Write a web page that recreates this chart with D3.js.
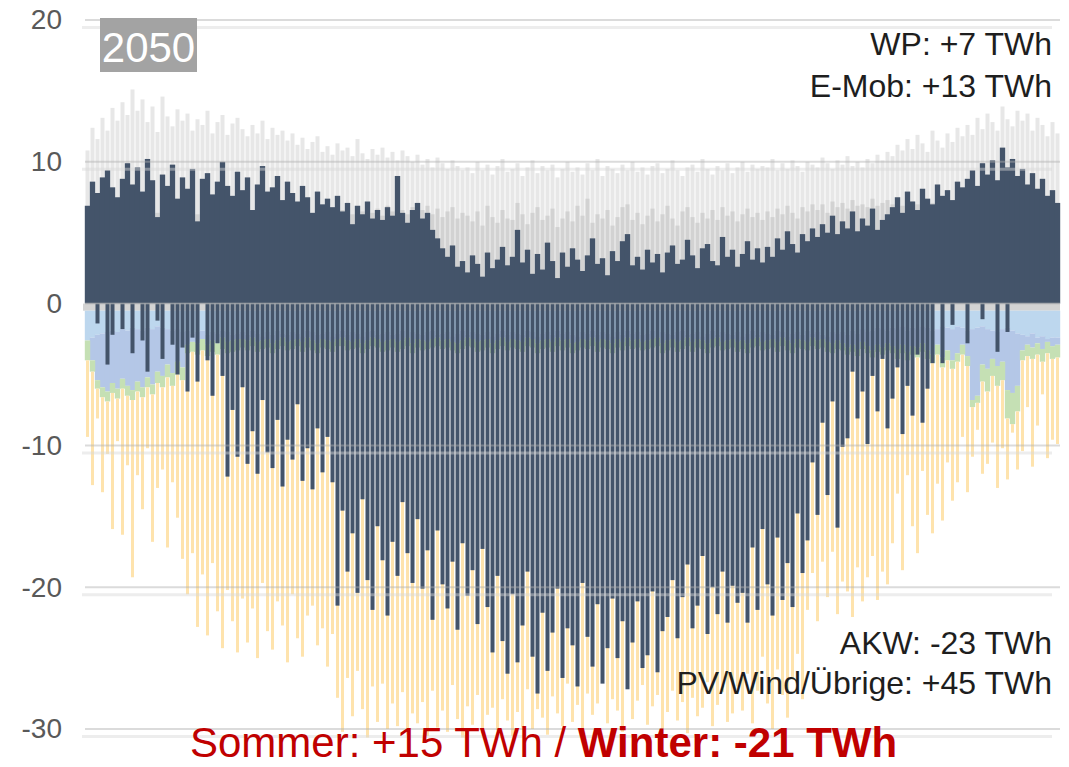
<!DOCTYPE html>
<meta charset="utf-8">
<script src="https://d3js.org/d3.v7.min.js"></script>
<style>
  body { margin: 0; background: #fff; }
</style>
<div id="chart"></div>
<script>

// one column ~ 2 days, values in TWh-scale units
// positive side: navy = import need, medium / light gray = extra demand on top
const navyPos = [
  6.9, 8.6, 7.8, 8.9, 9.4, 8.2, 7.5, 8.8, 9.9, 8.4,
  9.6, 7.9, 10.2, 8.7, 6.1, 9.1, 8.3, 9.8, 7.4, 8.9,
  8.1, 9.5, 5.8, 8.8, 9.2, 7.7, 8.6, 10.0, 8.3, 7.6,
  9.3, 8.0, 8.9, 6.6, 8.4, 9.7, 7.9, 8.2, 9.0, 7.3,
  8.6, 7.8, 7.2, 8.3, 7.5, 6.4, 7.9, 7.0, 7.4, 6.8,
  7.6, 6.5, 7.1, 5.6, 6.9, 6.3, 7.2, 6.0, 6.6, 5.9,
  6.8, 6.2, 9.0, 6.4, 5.7, 6.6,
  7.1, 6.0, 6.4, 5.2, 4.6, 3.9, 3.3, 4.1, 2.6, 3.0,
  2.2, 3.4, 2.8, 1.9, 3.6, 2.5, 3.1, 4.0, 2.7, 3.3,
  5.2, 2.9, 3.8, 2.1, 3.5, 2.4, 4.3, 3.0, 1.8, 3.6,
  2.6, 3.9, 3.1, 2.3, 3.4, 4.6, 2.8, 3.2, 2.0, 3.7,
  3.0, 4.4, 4.9, 2.7, 3.3, 2.4, 3.8, 2.9, 3.5, 2.2,
  3.6, 4.1, 2.8, 3.1, 4.5, 3.4, 2.5, 3.9, 4.2, 3.0,
  2.7, 4.7, 3.3, 3.8, 2.6, 3.5, 4.4, 3.1, 3.9, 2.9,
  4.0, 3.3, 4.6, 3.8, 5.1, 4.2, 3.6, 4.9, 4.4, 5.3,
  4.7, 5.6, 5.0, 6.2, 4.9, 5.8, 5.3, 6.5, 5.1, 6.0, 5.5, 6.7, 5.2, 5.9, 6.3,
  6.8, 7.5, 6.4, 7.9, 7.2, 6.6, 8.1, 7.4, 7.0, 8.4, 7.6, 8.0, 7.3, 8.6, 8.2,
  8.8, 9.4, 8.3, 9.9, 9.1, 10.1, 8.7, 11.0, 9.6, 10.2, 9.0,
  9.5, 8.4, 9.2, 8.1, 8.8, 7.6, 8.0, 7.1
];

const grayMid = [
  6.8, 7.2, 6.5, 7.0, 7.4, 6.9, 6.6, 7.3, 7.1, 6.7,
  7.5, 6.8, 7.2, 7.0, 6.4, 7.3, 6.9, 7.4, 6.6, 7.1,
  6.9, 7.2, 6.3, 7.0, 7.3, 6.8, 7.1, 7.5, 6.9, 6.6,
  7.2, 6.8, 7.0, 6.5, 6.9, 7.3, 6.7, 6.9, 7.1, 6.6,
  7.0, 6.8, 6.6, 7.1, 6.9, 6.4, 7.0, 6.7, 6.9, 6.5,
  7.1, 6.6, 6.9, 6.3, 6.8, 6.5, 7.0, 6.4, 6.7, 6.2,
  6.9, 6.5, 7.2, 6.6, 6.3, 6.8,
  7.0, 6.6, 6.9, 6.3, 6.7, 6.1, 6.5, 6.8, 6.0, 6.4,
  6.2, 5.8, 6.5, 5.5, 6.9, 6.1, 5.7, 6.6, 6.0, 5.9,
  7.1, 6.3, 5.6, 6.4, 6.8, 5.9, 6.2, 6.7, 5.4, 6.0,
  6.5, 5.8, 6.9, 6.2, 7.4, 5.7, 6.3, 6.0, 6.6, 5.5,
  6.1, 6.8, 7.0, 5.9, 6.4, 5.6, 6.2, 6.7, 5.8, 6.3,
  6.9, 6.0, 5.5, 6.5, 6.8, 6.1, 5.7, 6.4, 6.0, 6.6,
  5.9, 6.8, 6.2, 6.5, 5.8, 6.3, 6.7, 6.1, 6.4, 5.9,
  6.5, 6.1, 6.7, 6.3, 6.9, 6.4, 6.0, 6.8, 6.5, 7.0,
  6.6, 7.0, 6.4, 7.2, 6.8, 7.1, 6.7, 7.3, 6.9, 7.0, 6.8, 7.4, 6.9, 7.1, 7.3,
  7.0, 7.4, 6.9, 7.6, 7.2, 7.0, 7.5, 7.3, 7.1, 7.7, 7.4, 7.6, 7.2, 7.8, 7.5,
  7.6, 7.9, 7.4, 8.0, 7.7, 8.1, 7.5, 8.3, 7.9, 8.0, 7.6,
  7.8, 7.4, 7.7, 7.2, 7.5, 7.0, 7.3, 6.8
];

const grayTop = [
  10.8, 12.4, 11.6, 13.1, 12.2, 13.8, 12.9, 14.2, 13.3, 15.1,
  13.6, 14.4, 12.8, 13.9, 12.1, 14.6, 13.2, 12.5, 13.7, 12.9,
  13.4, 12.2, 13.0, 12.6, 13.6, 12.0, 12.8, 13.3, 11.9, 12.7,
  13.1, 12.3, 11.8, 12.6, 12.0, 12.9, 11.6, 12.4, 11.9, 12.2,
  11.5, 12.0, 11.2, 11.7, 10.9, 11.4, 11.8, 10.7, 11.1, 10.5,
  11.3, 10.8, 11.0, 10.4, 11.6, 10.6, 10.2, 10.9, 10.5, 11.0,
  10.3, 10.7, 10.1, 10.8, 10.4, 10.0,
  10.5, 9.8, 10.2, 9.6, 10.3, 9.9, 9.5, 10.1, 9.7, 9.4,
  9.6, 9.2, 10.0, 9.4, 9.8, 9.1, 9.7, 10.2, 9.3, 9.5,
  9.9, 9.0, 9.6, 10.1, 9.2, 9.7, 9.4, 9.8, 8.9, 9.5,
  10.0, 9.3, 9.6, 9.1, 9.9, 9.4, 10.2, 9.0, 9.7, 9.5,
  9.2, 9.8, 9.4, 10.0, 9.3, 9.6, 9.1, 9.7, 9.9, 9.2,
  9.5, 10.1, 9.4, 9.0, 9.6, 9.8, 9.3, 10.2, 9.5, 9.1,
  9.7, 9.4, 9.9, 9.2, 9.6, 10.0, 9.3, 9.8, 9.5, 9.7,
  9.6, 10.2, 9.4, 9.9, 9.5, 10.1, 9.7, 9.3, 10.0, 9.8,
  9.6, 10.3, 9.9, 9.5, 10.1, 9.8, 10.4, 9.7, 10.0, 9.6, 10.2, 9.9, 10.5, 10.1, 10.7,
  10.4, 11.2, 10.8, 11.6, 10.9, 11.9, 11.3, 10.7, 12.2, 11.5, 11.0, 12.0, 11.4, 12.4, 11.8,
  12.6, 11.9, 13.1, 12.3, 13.4, 12.8, 12.2, 13.9, 13.0, 12.5, 13.6,
  12.9, 13.4, 12.2, 13.1, 12.6, 11.8, 12.8, 12.0
];

// negative side: navy = surplus, stacked bands = light blue / blue / green, then PV peaks (orange)
const navyNeg = [
  0, 0, -1.4, 0, -4.3, -2.2, 0, -1.8, 0, -3.5, 0, -2.6, -4.8, 0, -1.2, -3.9, 0, -2.9, -5.0,
  -3.1, -6.2, -2.4, -5.5, 0, -4.0, -6.5, -2.8, -5.1,
  -12.2, -7.5, -10.8, -5.9, -11.3, -9.0, -12.0, -6.8, -10.5, -11.6,
  -8.2, -12.9, -9.6, -11.0, -7.1, -12.5, -10.2, -13.1, -8.8, -11.9, -9.4, -12.6,
  -21.3, -14.6, -18.9, -16.2, -20.4, -13.8, -19.5, -21.6, -15.7, -18.1, -22.0, -16.8, -19.2, -14.0, -17.6, -19.7,
  -15.2, -20.1, -17.4, -22.3, -16.0, -19.8, -21.5, -18.2, -23.0, -16.9, -20.6, -18.8, -22.6, -17.3,
  -21.4, -24.6, -19.2, -23.8, -26.1, -20.5, -25.3, -22.7, -18.9, -24.9, -27.5, -21.8,
  -25.9, -23.2, -20.1, -26.4, -22.9, -24.1, -27.0, -19.7, -23.5, -25.6, -21.2, -26.8,
  -24.3, -20.8, -25.0, -22.4, -27.2, -23.9, -21.0, -25.7, -24.8, -20.3, -26.0, -23.1,
  -22.1, -19.5, -23.6, -20.7, -18.4, -22.9, -21.3, -17.8, -23.3, -20.0, -21.9, -18.9, -22.5, -19.9, -21.1,
  -20.4, -22.5, -17.2, -21.6, -15.9, -19.8, -22.0, -16.5, -20.9, -18.3, -21.4, -14.8, -19.0,
  -16.7, -11.2, -14.9, -8.4, -13.5, -6.9, -15.8, -10.1,
  -9.5, -4.8, -8.1, -6.2, -9.9, -5.1, -7.6, -3.9, -8.8, -6.7, -4.5, -9.2, -5.8, -7.9, -3.6, -8.4, -6.0, -4.2,
  0, -4.2, 0, -1.5, 0, 0, -2.8, 0, 0, -1.1, 0, 0, -3.4, 0, -2.0, 0, 0,
  0, 0, 0, 0, 0, 0, 0, 0
];

const lightBlueBot = [
  -2.6, -2.4, -2.2, -2.1, -2.0, -1.9, -2.0, -1.8, -1.9, -1.7,
  -1.8, -1.9, -1.7, -1.8, -1.6, -1.7, -1.8, -1.9, -1.8, -2.0,
  -1.9, -2.1, -2.0, -1.9, -2.2, -2.0, -2.1, -1.9, -2.0, -2.2,
  -2.1, -2.0, -2.2, -1.9, -2.1, -2.3, -2.0, -2.2, -1.9, -2.1,
  -2.2, -2.0, -2.1, -2.3, -1.9, -2.0, -2.2, -2.1, -2.0, -2.3,
  -2.1, -1.9, -2.2, -2.0, -2.1, -2.3, -2.0, -1.9, -2.2, -2.1,
  -2.0, -2.2, -2.1, -1.9, -2.3, -2.0, -2.1, -2.2, -2.0, -1.9,
  -2.2, -2.1, -2.0, -2.3, -2.1, -1.9, -2.2, -2.0, -2.1, -2.2,
  -2.0, -2.3, -2.1, -1.9, -2.2, -2.0, -2.1, -2.2, -1.9, -2.0,
  -2.3, -2.1, -2.0, -2.2, -1.9, -2.1, -2.0, -2.2, -2.3, -2.0,
  -2.1, -1.9, -2.2, -2.0, -2.1, -2.3, -2.0, -2.2, -1.9, -2.1,
  -2.0, -2.2, -2.1, -1.9, -2.3, -2.0, -2.1, -2.2, -2.0, -1.9,
  -2.2, -2.1, -2.0, -2.3, -2.1, -1.9, -2.2, -2.0, -2.1, -2.2,
  -2.0, -2.3, -2.1, -1.9, -2.2, -2.0, -2.1, -2.2, -1.9, -2.0,
  -2.3, -2.1, -2.0, -2.2, -1.9, -2.1, -2.0, -2.2, -2.3, -2.0, -2.1,
  -2.0, -2.2, -1.9, -2.1, -1.8, -2.0, -1.9, -1.7, -1.8, -1.9,
  -1.7, -1.8, -1.6, -1.9, -1.7, -1.8, -1.6, -1.7, -1.9, -1.8,
  -1.6, -1.7, -1.8, -1.6, -1.7, -1.9, -1.8, -1.7, -1.6, -1.8,
  -1.9, -2.0, -1.8, -1.7, -1.9, -2.1, -2.2, -2.3, -2.1, -2.4,
  -2.3, -2.5, -2.4, -2.4
];

const blueBot = [
  -2.5, -4.0, -5.4, -5.9, -6.2, -5.6, -6.0, -5.3, -5.8, -6.1,
  -5.5, -5.9, -5.2, -5.7, -4.8, -5.1, -4.3, -4.9, -4.1, -4.5,
  -2.9, -2.7, -2.8, -2.5, -2.9, -2.6, -2.8, -2.4, -2.7, -2.6, -2.5,
  -2.5, -2.6, -2.4, -2.7, -2.6, -2.5, -2.8, -2.6, -2.4, -2.7,
  -2.6, -2.5, -2.7, -2.4, -2.6, -2.8, -2.5, -2.6, -2.7, -2.5,
  -2.4, -2.6, -2.7, -2.5, -2.8, -2.6, -2.4, -2.5, -2.7, -2.6,
  -2.5, -2.7, -2.6, -2.4, -2.8, -2.5, -2.6, -2.7, -2.5, -2.4,
  -2.6, -2.5, -2.7, -2.8, -2.6, -2.4, -2.5, -2.7, -2.6, -2.5,
  -2.8, -2.6, -2.4, -2.7, -2.5, -2.6, -2.7, -2.4, -2.5, -2.8,
  -2.6, -2.5, -2.7, -2.4, -2.6, -2.5, -2.8, -2.7, -2.5, -2.6,
  -2.4, -2.7, -2.5, -2.6, -2.8, -2.5, -2.7, -2.4, -2.6, -2.5,
  -2.7, -2.6, -2.5, -2.4, -2.8, -2.6, -2.5, -2.7, -2.6, -2.4,
  -2.7, -2.5, -2.6, -2.8, -2.5, -2.4, -2.7, -2.6, -2.5, -2.7,
  -2.6, -2.8, -2.5, -2.4, -2.7, -2.6, -2.5, -2.7, -2.4, -2.6,
  -2.8, -2.5, -2.6, -2.7, -2.4, -2.6, -2.5, -2.7, -2.8, -2.6,
  -2.8, -3.1, -2.9, -3.2, -2.7, -3.0, -3.3, -2.9, -3.1, -2.8,
  -3.0, -3.2, -2.9, -3.4, -3.0, -3.1, -2.8, -3.3,
  -3.6, -2.9, -3.8, -3.3, -4.0, -3.5, -2.9, -3.7,
  -6.8, -6.5,
  -4.3, -4.6, -3.9, -4.4, -4.1,
  -6.1, -6.3, -5.8,
  -3.3, -2.9, -3.1, -2.8, -3.2, -2.7, -3.0, -2.9
];

const greenBot = [
  -4.0, -4.8, -6.0, -6.6, -6.9, -6.3, -6.7, -6.0, -6.5, -6.8,
  -6.2, -6.6, -5.9, -6.4, -5.6, -5.9, -5.2, -5.8, -5.0, -5.4,
  -3.5, -3.4, -3.6, -3.3, -3.7, -3.4, -3.6, -3.2, -3.5, -3.4, -3.3,
  -3.1, -3.3, -3.0, -3.4, -3.2, -3.1, -3.5, -3.2, -3.0, -3.3,
  -3.2, -3.0, -3.4, -3.1, -3.3, -3.5, -3.1, -3.2, -3.4, -3.0,
  -3.0, -3.3, -3.2, -3.1, -3.5, -3.2, -3.0, -3.1, -3.4, -3.3,
  -3.1, -3.4, -3.2, -3.0, -3.5, -3.1, -3.3, -3.2, -3.1, -3.0,
  -3.2, -3.1, -3.3, -3.5, -3.2, -3.0, -3.1, -3.4, -3.3, -3.1,
  -3.5, -3.2, -3.0, -3.3, -3.1, -3.2, -3.4, -3.0, -3.1, -3.5,
  -3.2, -3.1, -3.4, -3.0, -3.3, -3.1, -3.5, -3.3, -3.1, -3.2,
  -3.0, -3.4, -3.1, -3.2, -3.5, -3.1, -3.3, -3.0, -3.2, -3.1,
  -3.3, -3.2, -3.1, -3.0, -3.5, -3.3, -3.1, -3.4, -3.2, -3.0,
  -3.4, -3.1, -3.2, -3.5, -3.1, -3.0, -3.3, -3.2, -3.1, -3.4,
  -3.2, -3.5, -3.1, -3.0, -3.3, -3.2, -3.1, -3.4, -3.0, -3.3,
  -3.5, -3.1, -3.2, -3.3, -3.0, -3.2, -3.1, -3.4, -3.5, -3.2,
  -3.3, -3.6, -3.4, -3.7, -3.2, -3.5, -3.8, -3.4, -3.6, -3.3,
  -3.5, -3.9, -3.5, -4.0, -3.6, -3.8, -3.4, -3.9,
  -4.2, -3.6, -4.5, -4.0, -4.6, -4.1, -3.6, -4.4,
  -7.3, -7.0,
  -5.5, -6.2, -5.1, -5.8, -5.4,
  -8.1, -8.5, -7.6,
  -4.0, -3.7, -3.9, -3.6, -4.1, -3.5, -3.9, -3.8
];

const orangeBot = [
  -9.4, -12.8, -8.1, -13.3, -10.6, -15.9, -9.7, -16.3, -11.4, -19.3,
  -12.1, -14.5, -10.2, -16.8, -13.0, -11.7, -17.2, -12.6, -15.1, -18.0,
  -20.5, -17.6, -22.8, -19.1, -23.4, -18.3, -21.7, -24.3, -20.2,
  -22.4, -24.6, -20.8, -23.9, -21.5, -25.0, -19.7, -23.1, -24.4, -21.0,
  -22.7, -25.3, -20.5, -23.6, -24.9, -22.0, -21.3, -24.1, -22.9, -25.6, -23.3,
  -27.8, -30.2, -26.4, -29.1, -25.9, -28.6, -30.6, -27.0, -29.5, -26.8,
  -30.0, -28.2, -29.8, -27.4, -30.4, -28.9,
  -29.6, -28.1, -30.5, -27.3, -29.9, -28.7, -30.2, -26.9, -29.3, -30.6,
  -28.4, -29.7, -27.6, -30.3, -29.0, -28.5, -30.1, -27.9, -29.4, -30.5,
  -28.8, -29.9, -27.2, -30.0, -28.6, -29.2, -30.4, -27.7, -28.9, -29.8,
  -26.8, -29.5, -28.3, -30.1, -27.5, -29.0, -28.2, -26.5, -29.6, -27.9,
  -28.7, -30.2, -27.1, -29.3, -28.0, -26.9, -29.7, -28.4, -27.6, -30.0,
  -28.8, -27.3, -29.4, -28.1, -30.3, -27.8, -29.1, -28.5, -26.7, -29.8,
  -28.3, -27.4, -29.5, -28.9, -27.0,
  -28.7, -26.1, -29.6, -27.3, -24.9, -28.2, -30.0, -25.8, -27.6, -29.2,
  -26.4, -24.7, -27.9,
  -21.6, -19.0, -22.4, -18.2, -20.7, -17.5, -21.9, -19.6, -20.3, -22.1,
  -18.6, -21.0, -19.3, -17.8, -20.9, -18.9, -19.8,
  -16.9, -13.4, -18.8, -12.1, -15.7, -17.6, -11.8, -14.9, -16.2, -12.7,
  -15.3, -11.2, -13.9,
  -12.6, -9.4, -13.3, -10.8, -8.9, -12.0, -11.3, -9.8, -13.0, -10.2,
  -12.4, -9.1, -11.7,
  -10.4, -7.3, -11.5, -8.6, -6.4, -10.9, -9.6, -9.9
];

const yTicks = [20, 10, 0, -10, -20, -30];
const yearLabel = "2050";
const notesTop = ["WP: +7 TWh", "E-Mob: +13 TWh"];
const notesBottom = ["AKW: -23 TWh", "PV/Wind/Übrige: +45 TWh"];
const seasonNormal = "Sommer: +15 TWh / ";
const seasonBold = "Winter: -21 TWh";

const font = '"Liberation Sans", Arial, sans-serif';
const width = 1069, height = 767;

const svg = d3.select("#chart")
  .append("svg")
    .attr("width", width)
    .attr("height", height)
    .style("font-family", font);

const N = navyPos.length;

const x = d3.scaleBand()
  .domain(d3.range(N))
  .range([85, 1060]);
const y = d3.scaleLinear()
  .domain([-30, 20])
  .range([729, 20]);
const step = x.bandwidth();

// helper: a layer of bars between two value arrays
function layer(top, bottom, color, w) {
  svg.append("g")
    .selectAll("rect")
    .data(d3.range(N))
    .join("rect")
      .attr("x", i => x(i) + (step - w) / 2)
      .attr("width", w)
      .attr("y", i => y(top(i)))
      .attr("height", i => Math.max(0, y(bottom(i)) - y(top(i))))
      .attr("fill", color);
}

// stacked bottoms, each never above the one before
const lb = i => Math.min(lightBlueBot[i], -0.5);
const bl = i => Math.min(blueBot[i], lb(i));
const gr = i => Math.min(greenBot[i], bl(i));
const orb = i => Math.min(orangeBot[i], gr(i));

// positive side
layer(i => grayTop[i], i => 0, "#e7e7e7", step - 1);
layer(i => grayMid[i], i => 0, "#d2d2d2", step - 1);
layer(i => navyPos[i], i => 0, "#44546a", step + 0.4);

// zero band
svg.append("rect")
  .attr("x", 83).attr("width", 1060 - 83)
  .attr("y", y(0)).attr("height", y(-0.5) - y(0))
  .attr("fill", "#d3d3d3");

// negative side
layer(i => -0.5, lb, "#bdd7ee", step + 0.4);
layer(lb, bl, "#b4c7e7", step + 0.4);
layer(bl, gr, "#c5e0b4", step + 0.4);
layer(gr, orb, "#fee3ad", step - 2);
layer(i => 0, i => navyNeg[i], "#44546a", step - 1);

// gridlines (double lines, drawn over the bars)
const grid = svg.append("g");
grid.selectAll("line.main")
  .data(yTicks)
  .join("line")
    .attr("class", "main")
    .attr("x1", 85).attr("x2", 1060)
    .attr("y1", d => y(d)).attr("y2", d => y(d))
    .attr("stroke", "#b0b0b0")
    .attr("stroke-opacity", 0.45)
    .attr("stroke-width", 2);
grid.selectAll("line.shadow")
  .data(yTicks.filter(d => d !== 0))
  .join("line")
    .attr("class", "shadow")
    .attr("x1", 82).attr("x2", 1052)
    .attr("y1", d => y(d) + 7.5).attr("y2", d => y(d) + 7.5)
    .attr("stroke", "#d8d8d8")
    .attr("stroke-opacity", 0.45)
    .attr("stroke-width", 3);

// y axis labels (plain hyphen for negatives, as in the original)
svg.append("g")
  .attr("transform", "translate(62,0)")
  .call(d3.axisLeft(y).tickValues(yTicks).tickFormat(d => String(d)).tickSize(0).tickPadding(0))
  .call(g => g.select(".domain").remove())
  .call(g => g.selectAll("text")
    .attr("font-family", font)
    .attr("font-size", 28)
    .attr("fill", "#595959"));

// year tag
svg.append("rect")
  .attr("x", 100).attr("y", 18)
  .attr("width", 97).attr("height", 54)
  .attr("fill", "#a3a3a3");
svg.append("text")
  .attr("x", 148.5).attr("y", 62)
  .attr("text-anchor", "middle")
  .attr("font-size", 42)
  .attr("fill", "#ffffff")
  .text(yearLabel);

// notes
svg.selectAll("text.top")
  .data(notesTop)
  .join("text")
    .attr("class", "top")
    .attr("x", 1052)
    .attr("y", (d, i) => 55 + i * 42)
    .attr("text-anchor", "end")
    .attr("font-size", 32)
    .attr("fill", "#1e1e1e")
    .text(d => d);
svg.selectAll("text.bottom")
  .data(notesBottom)
  .join("text")
    .attr("class", "bottom")
    .attr("x", 1052)
    .attr("y", (d, i) => 654 + i * 40)
    .attr("text-anchor", "end")
    .attr("font-size", 32)
    .attr("fill", "#1e1e1e")
    .text(d => d);

// season balance
const season = svg.append("text")
  .attr("x", 190).attr("y", 757)
  .attr("font-size", 42)
  .attr("fill", "#c00000");
season.append("tspan").text(seasonNormal);
season.append("tspan").attr("font-weight", "bold").text(seasonBold);

</script>
